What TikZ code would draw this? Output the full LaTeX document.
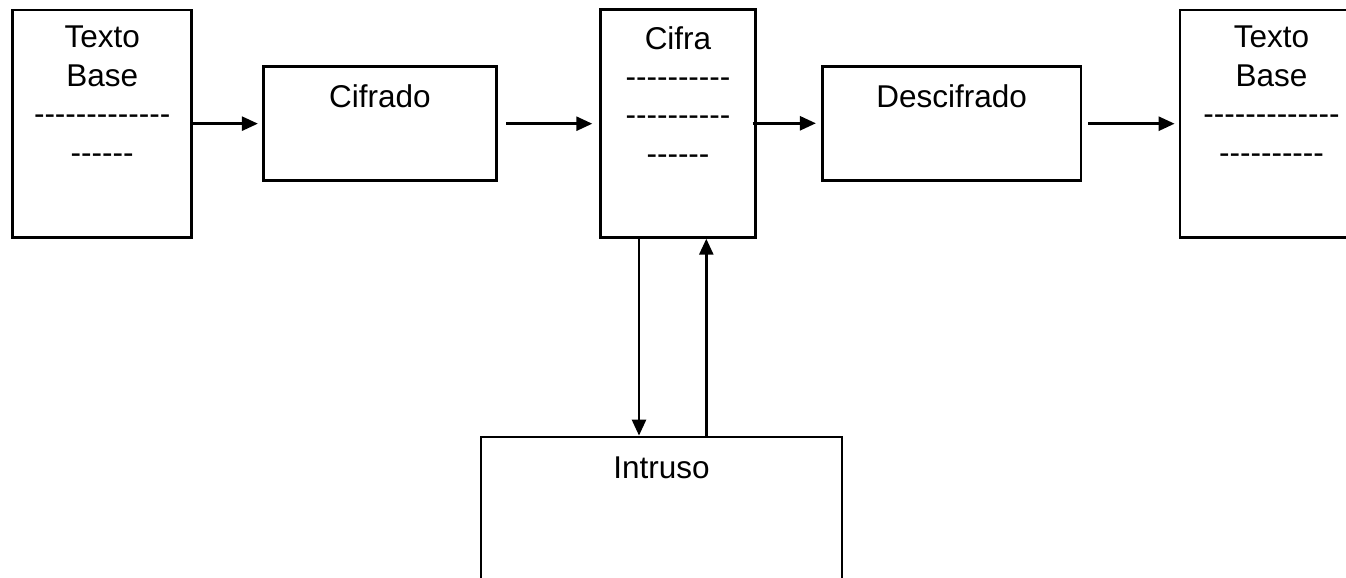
\documentclass[tikz,border=0pt]{standalone}
\usepackage{fontspec}
\setmainfont{Liberation Sans}
\usetikzlibrary{arrows.meta}
\newcommand\hyphs[1]{\foreach\i in {1,...,#1}{-}}
\begin{document}
\begin{tikzpicture}[x=1pt,y=-1pt,
  box/.style={draw=black,line width=2.8pt,rectangle,inner sep=0pt,fill=none},
  lbl/.style={inner sep=0pt,anchor=base,font=\fontsize{31.5}{38.5}\selectfont},
  arr/.style={line width=2.6pt,-{Triangle[length=16pt,width=14pt]}}]
\useasboundingbox (0,0) rectangle (1346,578);
\clip (0,0) rectangle (1346,578);
\fill[white] (0,0) rectangle (1346,578);
% boxes
\node[box,minimum width=179pt,minimum height=227.3pt] (tb1) at (102.2,123.65) {};
\node[box,minimum width=233.4pt,minimum height=114pt] (cif) at (380,123.7) {};
\node[box,minimum width=154.6pt,minimum height=228pt] (cra) at (678,123.3) {};
\node[box,minimum width=258.7pt,minimum height=114pt] (des) at (951.65,123.7) {};
\node[box,minimum width=183pt,minimum height=227.3pt] (tb2) at (1271.5,123.65) {};
\node[box,minimum width=361pt,minimum height=253pt] (intr) at (661.5,563.5) {};
% texts
\node[lbl] (t1) at (102.2,48) {\setlength\tabcolsep{0pt}\begin{tabular}[t]{c}Texto\\Base\\\hyphs{13}\\\hyphs{6}\end{tabular}};
\node[lbl] (t2) at (380,107.3) {Cifrado};
\node[lbl] (t3) at (678,49) {\setlength\tabcolsep{0pt}\begin{tabular}[t]{c}Cifra\\\hyphs{10}\\\hyphs{10}\\\hyphs{6}\end{tabular}};
\node[lbl] (t4) at (951.65,107.3) {Descifrado};
\node[lbl] (t5) at (1271.5,48) {\setlength\tabcolsep{0pt}\begin{tabular}[t]{c}Texto\\Base\\\hyphs{13}\\\hyphs{10}\end{tabular}};
\node[lbl] (t6) at (661.5,478) {Intruso};
% connectors
\draw[arr,shorten >=4pt] (tb1.east) -- (cif.west |- tb1.east);
\draw[arr,shorten <=8pt,shorten >=7pt] (cif.east) -- (cra.west |- cif.east);
\draw[arr,shorten <=-4pt,shorten >=5pt] (cra.east) -- (des.west |- cra.east);
\draw[arr,shorten <=6pt,shorten >=4pt] (des.east) -- (tb2.west |- des.east);
\draw[arr] ([xshift=-39pt]cra.south) -- ([xshift=-39pt]cra.south |- intr.north);
\draw[arr] ([xshift=28.3pt]cra.south |- intr.north) -- ([xshift=28.3pt]cra.south);
\end{tikzpicture}
\end{document}
